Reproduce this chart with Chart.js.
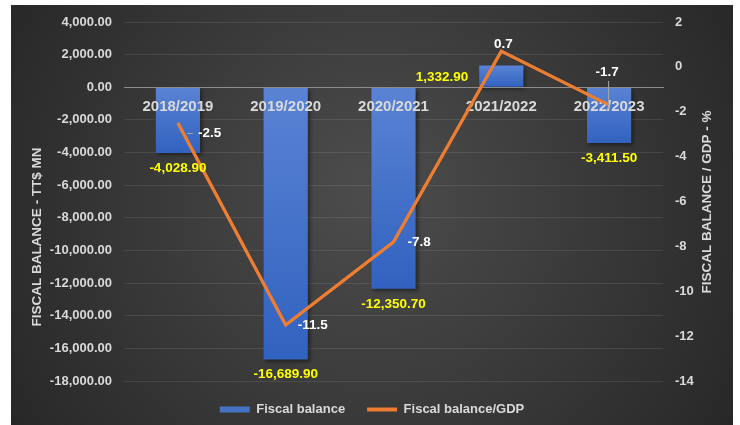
<!DOCTYPE html>
<html>
<head>
<meta charset="utf-8">
<script src="https://cdn.jsdelivr.net/npm/chart.js@4.4.1/dist/chart.umd.min.js"></script>
<style>
  html, body { margin: 0; padding: 0; background: #ffffff; }
</style>
</head>
<body>
<canvas id="fiscalChart" width="740" height="425"></canvas>
<script>
// data
var years = ['2018/2019', '2019/2020', '2020/2021', '2021/2022', '2022/2023'];
var fiscalBalance = [-4028.90, -16689.90, -12350.70, 1332.90, -3411.50];
var balanceToGdp = [-2.5, -11.5, -7.8, 0.7, -1.7];
var leftAxisRange = [-18000, 4000];
var leftAxisStep = 2000;
var rightAxisRange = [-14, 2];
var rightAxisStep = 2;

var FONT = '"Liberation Sans", Arial, sans-serif';
var TEXT = '#d9d9d9';

// where each line label sits relative to its point (style only)
var lineLabelPlacement = [
    { dx: 20, dy: 10, align: 'left', leader: 'h' },
    { dx: 12, dy: 0, align: 'left' },
    { dx: 14, dy: 0, align: 'left' },
    { dx: 2, dy: -7, align: 'center' },
    { dx: -2, dy: -33, align: 'center', leader: 'v' }
];

function money(v) {
    return v.toLocaleString('en-US', { minimumFractionDigits: 2, maximumFractionDigits: 2 });
}

var backgroundPlugin = {
    id: 'darkPanel',
    beforeDraw: function (chart) {
        var c = chart.ctx;
        c.save();
        c.fillStyle = '#ffffff';
        c.fillRect(0, 0, chart.width, chart.height);
        var g = c.createRadialGradient(372, 190, 20, 372, 215, 460);
        g.addColorStop(0, '#4b4b4b');
        g.addColorStop(1, '#242424');
        c.fillStyle = g;
        c.fillRect(11, 5, 722, 420);
        c.restore();
    }
};

var barShadow = {
    id: 'barShadow',
    beforeDatasetDraw: function (chart, args) {
        if (args.index !== 0) return;
        var c = chart.ctx;
        c.save();
        c.shadowColor = 'rgba(0,0,0,0.45)';
        c.shadowBlur = 4;
        c.shadowOffsetX = 2;
        c.shadowOffsetY = 2;
    },
    afterDatasetDraw: function (chart, args) {
        if (args.index !== 0) return;
        chart.ctx.restore();
    }
};

var labelsPlugin = {
    id: 'valueLabels',
    afterDraw: function (chart) {
        var c = chart.ctx;
        // put the line back on top of the category labels
        c.save();
        chart.getDatasetMeta(1).controller.draw();
        c.restore();

        c.save();
        c.font = 'bold 13.5px ' + FONT;
        c.textBaseline = 'middle';

        // bar values in yellow
        c.fillStyle = '#ffff00';
        chart.getDatasetMeta(0).data.forEach(function (el, i) {
            var v = fiscalBalance[i];
            if (v >= 0) {
                c.textAlign = 'right';
                c.fillText(money(v), el.x - el.width / 2 - 11, (el.y + el.base) / 2 + 1);
            } else {
                c.textAlign = 'center';
                c.fillText(money(v), el.x, el.y + 15);
            }
        });

        // line values in white
        chart.getDatasetMeta(1).data.forEach(function (pt, i) {
            var p = lineLabelPlacement[i];
            var tx = pt.x + p.dx, ty = pt.y + p.dy;
            if (p.leader) {
                c.strokeStyle = '#a6a6a6';
                c.lineWidth = 1;
                c.beginPath();
                if (p.leader === 'h') {
                    c.moveTo(pt.x + 9, ty + 0.5);
                    c.lineTo(tx - 5, ty + 0.5);
                } else {
                    c.moveTo(tx + 1.5, ty + 9);
                    c.lineTo(tx + 1.5, pt.y + 4);
                }
                c.stroke();
            }
            c.fillStyle = '#ffffff';
            c.textAlign = p.align;
            c.fillText(balanceToGdp[i].toFixed(1), tx, ty);
        });

        // axis titles, both reading bottom to top
        c.fillStyle = TEXT;
        c.textAlign = 'center';
        c.translate(37, 237);
        c.rotate(-Math.PI / 2);
        c.fillText('FISCAL BALANCE - TT$ MN', 0, 0);
        c.rotate(Math.PI / 2);
        c.translate(-37, -237);
        c.translate(707, 202);
        c.rotate(-Math.PI / 2);
        c.fillText('FISCAL BALANCE / GDP - %', 0, 0);
        c.restore();
    }
};

var ctx = document.getElementById('fiscalChart').getContext('2d');
var fiscalChart = new Chart(ctx, {
    type: 'bar',
    data: {
        labels: years,
        datasets: [{
            type: 'bar',
            label: 'Fiscal balance',
            data: fiscalBalance,
            yAxisID: 'y',
            order: 1,
            barPercentage: 0.41,
            categoryPercentage: 1,
            backgroundColor: function (context) {
                var chart = context.chart;
                var y = chart.scales.y;
                if (!y || context.dataIndex === undefined) return '#4472c4';
                var v = fiscalBalance[context.dataIndex];
                var a = y.getPixelForValue(0), b = y.getPixelForValue(v);
                var top = Math.min(a, b), bottom = Math.max(a, b);
                if (!isFinite(top) || bottom - top < 1) return '#4472c4';
                var g = chart.ctx.createLinearGradient(0, top, 0, bottom);
                g.addColorStop(0, '#5a83d4');
                g.addColorStop(1, '#3162bf');
                return g;
            },
            borderWidth: 0
        }, {
            type: 'line',
            label: 'Fiscal balance/GDP',
            data: balanceToGdp,
            yAxisID: 'y1',
            order: 0,
            borderColor: '#ed7d31',
            backgroundColor: '#ed7d31',
            borderWidth: 3,
            pointRadius: 0,
            tension: 0
        }]
    },
    options: {
        responsive: false,
        animation: false,
        layout: {
            padding: { left: 11, right: 7, top: 22, bottom: -1 }
        },
        scales: {
            x: {
                position: { y: 0 },
                offset: true,
                afterFit: function (s) { s.height = 0; },
                grid: { display: false, drawTicks: false },
                border: { display: true, color: '#8c8c8c', width: 1, z: 1 },
                ticks: {
                    z: 1,
                    color: TEXT,
                    padding: 11,
                    maxRotation: 0,
                    font: { family: FONT, size: 15, weight: 'bold' }
                }
            },
            y: {
                position: 'left',
                min: leftAxisRange[0],
                max: leftAxisRange[1],
                afterFit: function (s) { s.width = 113; },
                grid: { color: 'rgba(255,255,255,0.09)', drawTicks: false },
                border: { display: false },
                ticks: {
                    stepSize: leftAxisStep,
                    color: TEXT,
                    padding: 12,
                    font: { family: FONT, size: 13, weight: 'bold' },
                    callback: function (v) { return money(v); }
                }
            },
            y1: {
                position: 'right',
                min: rightAxisRange[0],
                max: rightAxisRange[1],
                afterFit: function (s) { s.width = 70; },
                grid: { display: false, drawTicks: false },
                border: { display: false },
                ticks: {
                    stepSize: rightAxisStep,
                    color: TEXT,
                    padding: 12,
                    font: { family: FONT, size: 13, weight: 'bold' }
                }
            }
        },
        plugins: {
            legend: {
                position: 'bottom',
                labels: {
                    color: TEXT,
                    padding: 22,
                    usePointStyle: true,
                    pointStyleWidth: 30,
                    boxHeight: 6,
                    font: { family: FONT, size: 13, weight: 'bold' },
                    sort: function (a, b) { return a.datasetIndex - b.datasetIndex; },
                    generateLabels: function (chart) {
                        return Chart.defaults.plugins.legend.labels.generateLabels(chart).map(function (item) {
                            if (item.datasetIndex === 0) {
                                item.pointStyle = 'rect';
                                item.fillStyle = '#4472c4';
                                item.strokeStyle = '#4472c4';
                                item.lineWidth = 0;
                            } else {
                                item.pointStyle = 'line';
                                item.strokeStyle = '#ed7d31';
                                item.lineWidth = 4;
                            }
                            return item;
                        });
                    }
                }
            },
            tooltip: { enabled: false },
            title: { display: false }
        }
    },
    plugins: [backgroundPlugin, barShadow, labelsPlugin]
});
</script>
</body>
</html>
